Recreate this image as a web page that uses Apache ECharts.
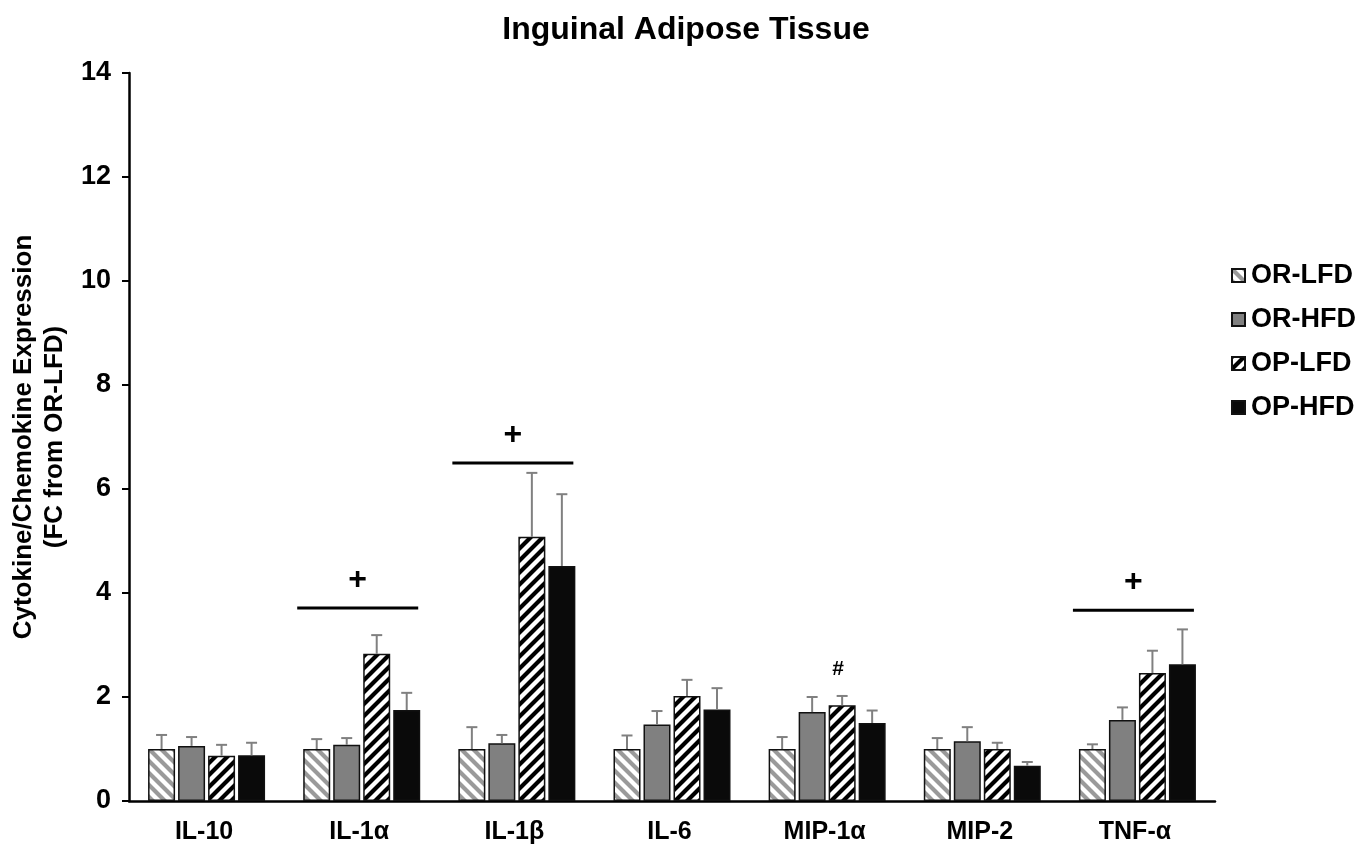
<!DOCTYPE html>
<html>
<head>
<meta charset="utf-8">
<script src="https://cdn.jsdelivr.net/npm/echarts@6/dist/echarts.min.js"></script>
<style>
html,body{margin:0;padding:0;background:#fff;}
#chart{width:1372px;height:850px;}
</style>
</head>
<body>
<div id="chart"></div>
<script>
// ---- data ----
const categories = ['IL-10', 'IL-1α', 'IL-1β', 'IL-6', 'MIP-1α', 'MIP-2', 'TNF-α'];
const seriesNames = ['OR-LFD', 'OR-HFD', 'OP-LFD', 'OP-HFD'];
const orLfd = [1.00, 1.00, 1.00, 1.00, 1.00, 1.00, 1.00];
const orHfd = [1.06, 1.08, 1.11, 1.47, 1.71, 1.15, 1.56];
const opLfd = [0.87, 2.83, 5.08, 2.02, 1.84, 1.00, 2.46];
const opHfd = [0.88, 1.75, 4.52, 1.76, 1.50, 0.68, 2.63];
const orLfdErr = [0.27, 0.19, 0.42, 0.26, 0.23, 0.21, 0.09];
const orHfdErr = [0.17, 0.13, 0.16, 0.26, 0.29, 0.27, 0.24];
const opLfdErr = [0.21, 0.36, 1.23, 0.31, 0.18, 0.12, 0.43];
const opHfdErr = [0.24, 0.33, 1.38, 0.41, 0.24, 0.07, 0.67];
const yTicks = [0, 2, 4, 6, 8, 10, 12, 14];
// significance marks: [category, y value of bar line, symbol]
const sigLines = [['IL-1α', 3.71, '+'], ['IL-1β', 6.50, '+'], ['TNF-α', 3.67, '+']];
// single marks: [category, series index, y value, symbol]
const sigMarks = [['MIP-1α', 2, 2.54, '#']];

// ---- styling ----
const FONT = '"Liberation Sans", Arial, sans-serif';
const BAR_W = 27, BAR_GAP = 3;

function stripes(bg, fg, dir, lw) {
  const s = 12;
  const c = document.createElement('canvas');
  c.width = s; c.height = s;
  const ctx = c.getContext('2d');
  ctx.fillStyle = bg; ctx.fillRect(0, 0, s, s);
  ctx.strokeStyle = fg; ctx.lineWidth = lw;
  ctx.beginPath();
  if (dir === '/') {
    ctx.moveTo(-3, s + 3); ctx.lineTo(s + 3, -3);
    ctx.moveTo(-3, 3); ctx.lineTo(3, -3);
    ctx.moveTo(s - 3, s + 3); ctx.lineTo(s + 3, s - 3);
  } else {
    ctx.moveTo(-3, -3); ctx.lineTo(s + 3, s + 3);
    ctx.moveTo(s - 3, -3); ctx.lineTo(s + 3, 3);
    ctx.moveTo(-3, s - 3); ctx.lineTo(3, s + 3);
  }
  ctx.stroke();
  return { image: c, repeat: 'repeat' };
}

const fills = [
  stripes('#ffffff', '#9a9a9a', '\\', 4.2),
  '#808080',
  stripes('#ffffff', '#000000', '/', 4.2),
  '#0a0a0a'
];
const values = [orLfd, orHfd, opLfd, opHfd];
const errs = [orLfdErr, orHfdErr, opLfdErr, opHfdErr];

const barSeries = seriesNames.map((name, i) => ({
  name: name,
  type: 'bar',
  barWidth: BAR_W,
  barGap: (BAR_GAP / BAR_W * 100) + '%',
  data: values[i],
  itemStyle: { color: fills[i], borderColor: '#111', borderWidth: 1.5 },
  emphasis: { disabled: true },
  z: 2
}));

const errData = [];
values.forEach((arr, si) => arr.forEach((v, ci) => errData.push([ci, v, v + errs[si][ci], si])));

const errSeries = {
  type: 'custom',
  name: 'err',
  data: errData,
  z: 3,
  silent: true,
  renderItem: function (params, api) {
    const si = api.value(3);
    const off = (si - 1.5) * (BAR_W + BAR_GAP);
    const p0 = api.coord([api.value(0), api.value(1)]);
    const p1 = api.coord([api.value(0), api.value(2)]);
    const x = p0[0] + off;
    const st = { stroke: '#808080', lineWidth: 2 };
    return {
      type: 'group',
      children: [
        { type: 'line', shape: { x1: x, y1: p0[1], x2: x, y2: p1[1] }, style: st },
        { type: 'line', shape: { x1: x - 5.5, y1: p1[1], x2: x + 5.5, y2: p1[1] }, style: st }
      ]
    };
  }
};

const sigSeries = {
  type: 'custom',
  name: 'sig',
  data: sigLines.map(d => [categories.indexOf(d[0]), d[1], d[2]]),
  z: 4,
  silent: true,
  renderItem: function (params, api) {
    const p = api.coord([api.value(0), api.value(1)]);
    const half = (4 * BAR_W + 3 * BAR_GAP) / 2;
    return {
      type: 'group',
      children: [
        { type: 'line', shape: { x1: p[0] - half - 6, y1: p[1], x2: p[0] + half - 2, y2: p[1] },
          style: { stroke: '#000', lineWidth: 3 } },
        { type: 'text', x: p[0] - 4, y: p[1] - 28,
          style: { text: sigLines[params.dataIndex][2], font: 'bold 32px ' + FONT, fill: '#000', align: 'center', verticalAlign: 'middle' } }
      ]
    };
  }
};

const markSeries = {
  type: 'custom',
  name: 'mark',
  data: sigMarks.map(d => [categories.indexOf(d[0]), d[2], d[1]]),
  z: 4,
  silent: true,
  renderItem: function (params, api) {
    const p = api.coord([api.value(0), api.value(1)]);
    const off = (api.value(2) - 1.5) * (BAR_W + BAR_GAP);
    return {
      type: 'text', x: p[0] + off - 4, y: p[1],
      style: { text: sigMarks[params.dataIndex][3], font: 'bold 21px ' + FONT, fill: '#000', align: 'center', verticalAlign: 'middle' }
    };
  }
};

const chart = echarts.init(document.getElementById('chart'), null, { renderer: 'canvas' });
chart.setOption({
  backgroundColor: '#ffffff',
  animation: false,
  title: {
    text: 'Inguinal Adipose Tissue',
    left: 'center',
    top: 9,
    textStyle: { fontFamily: FONT, fontWeight: 'bold', fontSize: 32, color: '#000' }
  },
  legend: {
    data: seriesNames.map(n => ({ name: n, icon: 'rect' })),
    orient: 'vertical',
    left: 1226,
    top: 257,
    itemWidth: 13,
    itemHeight: 13,
    itemGap: 17,
    selectedMode: false,
    textStyle: { fontFamily: FONT, fontWeight: 'bold', fontSize: 27, color: '#000', lineHeight: 25, padding: [0, 0, 0, 1] }
  },
  grid: { left: 129, right: 157, top: 73, bottom: 49, containLabel: false, outerBoundsMode: 'none' },
  xAxis: {
    type: 'category',
    data: categories,
    axisLine: { lineStyle: { color: '#000', width: 2.5 } },
    axisTick: { show: false },
    axisLabel: { fontFamily: FONT, fontWeight: 'bold', fontSize: 25, color: '#000', margin: 19, padding: [0, 5, 0, 0] }
  },
  yAxis: {
    type: 'value',
    min: yTicks[0],
    max: yTicks[yTicks.length - 1],
    interval: 2,
    splitLine: { show: false },
    axisLine: { show: true, lineStyle: { color: '#000', width: 2.5 } },
    axisTick: { show: true, inside: false, length: 7, lineStyle: { color: '#000', width: 2 } },
    axisLabel: { fontFamily: FONT, fontWeight: 'bold', fontSize: 27, color: '#000', margin: 18 },
    name: 'Cytokine/Chemokine Expression\n(FC from OR-LFD)',
    nameLocation: 'middle',
    nameRotate: 90,
    nameGap: 53,
    nameTextStyle: { fontFamily: FONT, fontWeight: 'bold', fontSize: 26, color: '#000', lineHeight: 31 }
  },
  series: barSeries.concat([errSeries, sigSeries, markSeries])
});
</script>
</body>
</html>
